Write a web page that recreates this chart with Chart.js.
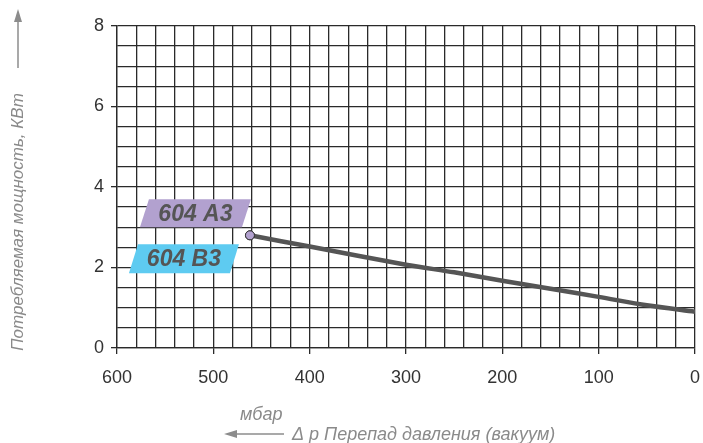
<!DOCTYPE html>
<html>
<head>
<meta charset="utf-8">
<script src="https://cdn.jsdelivr.net/npm/chart.js@4"></script>
<style>
  html, body { margin: 0; padding: 0; background: #fff; }
  #wrap { width: 703px; height: 443px; position: relative; }
</style>
</head>
<body>
<div id="wrap"><canvas id="chart"></canvas></div>
<script>
// pressure difference, mbar (x axis runs 600 -> 0)
const pressure = [462, 400, 300, 250, 200, 150, 100, 50, 0];
// power consumption, kW
const power = [2.8, 2.52, 2.07, 1.88, 1.67, 1.47, 1.27, 1.06, 0.9];
const xTicks = [600, 500, 400, 300, 200, 100, 0];
const yTicks = [0, 2, 4, 6, 8];
const models = ["604 A3", "604 B3"];

const yTitle = "Потребляемая мощность, КВт";
const xUnit = "мбар";
const xTitle = "Δ p Перепад давления (вакуум)";

const GRID = "#2a2a2a";
const TEXT = "#333";
const TITLE = "#8a8a8a";
const FONT = "'Liberation Sans', Arial, sans-serif";

function arrow(ctx, x1, y1, x2, y2) {
  const a = Math.atan2(y2 - y1, x2 - x1);
  ctx.beginPath();
  ctx.moveTo(x1, y1);
  ctx.lineTo(x2 - 8 * Math.cos(a), y2 - 8 * Math.sin(a));
  ctx.stroke();
  ctx.beginPath();
  ctx.moveTo(x2, y2);
  ctx.lineTo(x2 - 13 * Math.cos(a) + 4 * Math.sin(a), y2 - 13 * Math.sin(a) - 4 * Math.cos(a));
  ctx.lineTo(x2 - 13 * Math.cos(a) - 4 * Math.sin(a), y2 - 13 * Math.sin(a) + 4 * Math.cos(a));
  ctx.closePath();
  ctx.fill();
}

const decorations = {
  id: "decorations",
  afterDraw(chart) {
    const ctx = chart.ctx;
    const pt = chart.getDatasetMeta(0).data[0];
    const px = pt.x, py = pt.y;
    ctx.save();

    // model tags next to the first point
    const tags = [
      { text: models[0], fill: "#b2a1cf", top: py - 36, bot: py - 8, tl: px - 101, tr: px + 1, bl: px - 110, br: px - 8 },
      { text: models[1], fill: "#5ecbf1", top: py + 9, bot: py + 38, tl: px - 112, tr: px - 11, bl: px - 121, br: px - 20 },
    ];
    tags.forEach((t) => {
      ctx.fillStyle = t.fill;
      ctx.beginPath();
      ctx.moveTo(t.tl, t.top);
      ctx.lineTo(t.tr, t.top);
      ctx.lineTo(t.br, t.bot);
      ctx.lineTo(t.bl, t.bot);
      ctx.closePath();
      ctx.fill();
      ctx.fillStyle = "#555";
      ctx.font = "italic bold 23px " + FONT;
      ctx.textAlign = "center";
      ctx.textBaseline = "middle";
      ctx.fillText(t.text, (t.tl + t.tr + t.bl + t.br) / 4, (t.top + t.bot) / 2 + 1);
    });

    // redraw the first point above the tags
    pt.draw(ctx);

    // y axis title with arrow
    ctx.strokeStyle = "#8c8c8c";
    ctx.fillStyle = "#8c8c8c";
    ctx.lineWidth = 1.5;
    arrow(ctx, 18, 68, 18, 9);
    ctx.fillStyle = TITLE;
    ctx.font = "italic 17px " + FONT;
    ctx.translate(24, 222);
    ctx.rotate(-Math.PI / 2);
    ctx.textAlign = "center";
    ctx.textBaseline = "middle";
    ctx.fillText(yTitle, 0, -6);
    ctx.setTransform(1, 0, 0, 1, 0, 0);

    // x axis title with arrow
    ctx.strokeStyle = "#8c8c8c";
    ctx.fillStyle = "#8c8c8c";
    arrow(ctx, 284, 434, 224, 434);
    ctx.fillStyle = TITLE;
    ctx.font = "italic 18px " + FONT;
    ctx.textAlign = "left";
    ctx.textBaseline = "alphabetic";
    ctx.fillText(xUnit, 240, 420);
    ctx.fillText(xTitle, 292, 440);
    ctx.restore();
  },
};

new Chart(document.getElementById("chart"), {
  type: "line",
  data: {
    datasets: [{
      data: pressure.map((p, i) => ({ x: p, y: power[i] })),
      borderColor: "#555",
      borderWidth: 4.5,
      tension: 0.3,
      pointRadius: (c) => (c.dataIndex === 0 ? 4.5 : 0),
      pointBackgroundColor: "#b2a1cf",
      pointBorderColor: "#333",
      pointBorderWidth: 1,
    }],
  },
  options: {
    responsive: true,
    maintainAspectRatio: false,
    animation: false,
    events: [],
    layout: { padding: { top: 26, right: 8, left: 0, bottom: 0 } },
    plugins: { legend: { display: false }, tooltip: { enabled: false } },
    scales: {
      x: {
        type: "linear",
        reverse: true,
        min: 0,
        max: 600,
        afterFit: (s) => {
          s.height = 95;
          s.paddingLeft = 0;
          s.paddingRight = 0;
        },
        ticks: {
          stepSize: 20,
          autoSkip: false,
          maxRotation: 0,
          color: TEXT,
          padding: 13,
          font: { family: FONT, size: 18 },
          callback: (v) => (xTicks.includes(v) ? v : ""),
        },
        grid: {
          color: GRID,
          lineWidth: 1.3,
          tickLength: 6,
          tickColor: (c) => (xTicks.includes(c.tick.value) ? GRID : "rgba(0,0,0,0)"),
        },
        border: { color: GRID, width: 1.3 },
      },
      y: {
        min: 0,
        max: 8,
        afterFit: (s) => { s.width = 117; },
        ticks: {
          stepSize: 0.5,
          autoSkip: false,
          color: TEXT,
          padding: 7,
          font: { family: FONT, size: 18 },
          callback: (v) => (yTicks.includes(v) ? v : ""),
        },
        grid: {
          color: GRID,
          lineWidth: 1.3,
          tickLength: 6,
          tickColor: (c) => (yTicks.includes(c.tick.value) ? GRID : "rgba(0,0,0,0)"),
        },
        border: { color: GRID, width: 1.3 },
      },
    },
  },
  plugins: [decorations],
});
</script>
</body>
</html>
